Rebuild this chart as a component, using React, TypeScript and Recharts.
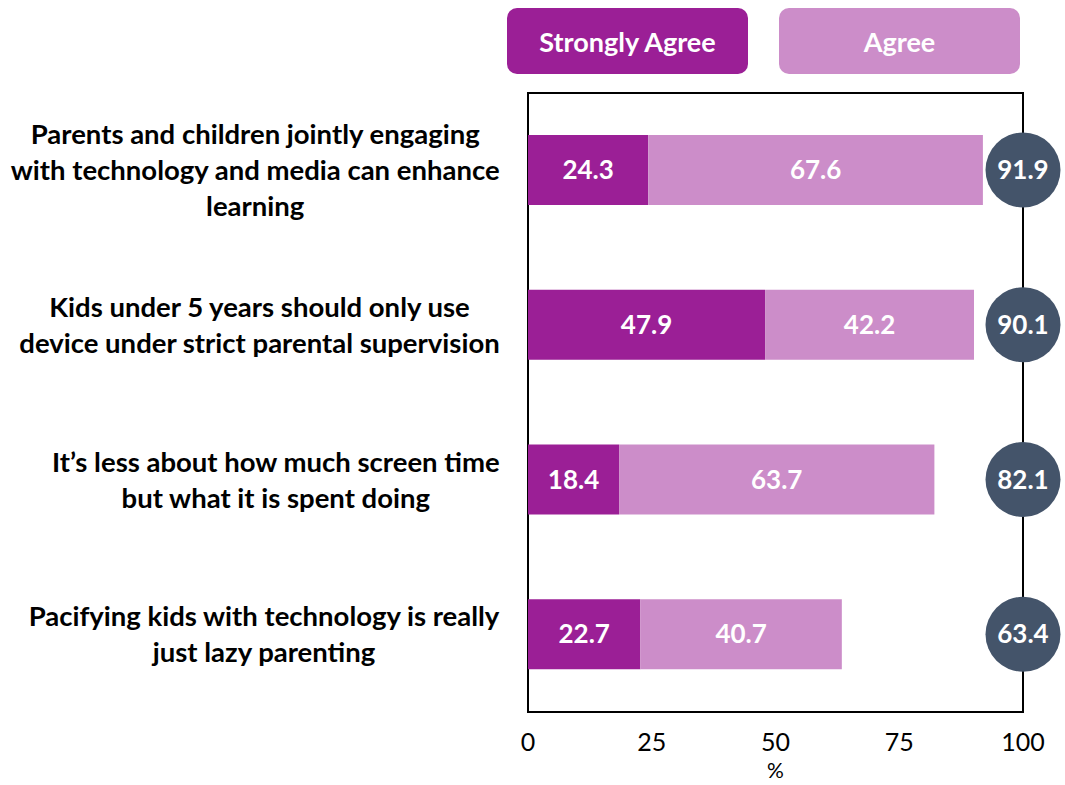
import { Bar, ComposedChart, LabelList, ReferenceArea, XAxis, YAxis } from "recharts";

const categories = [
  "Parents and children jointly engaging with technology and media can enhance learning",
  "Kids under 5 years should only use device under strict parental supervision",
  "It’s less about how much screen time but what it is spent doing",
  "Pacifying kids with technology is really just lazy parenting",
];

// how each category label wraps in the original
const categoryLines = [
  ["Parents and children jointly engaging", "with technology and media can enhance", "learning"],
  ["Kids under 5 years should only use", "device under strict parental supervision"],
  ["It’s less about how much screen time", "but what it is spent doing"],
  ["Pacifying kids with technology is really", "just lazy parenting"],
];

const stronglyAgree = [24.3, 47.9, 18.4, 22.7];
const agree = [67.6, 42.2, 63.7, 40.7];
const totals = [91.9, 90.1, 82.1, 63.4];
const xTicks = [0, 25, 50, 75, 100];

const seriesNames = ["Strongly Agree", "Agree"];
const DARK = "#9b1f96";
const LIGHT = "#cc8dc9";
const BUBBLE = "#44546a";
const FONT = "Lato, 'Open Sans', sans-serif";
const CAT_SIZE = 27.5;

const rows = categories.map((name, i) => ({
  name,
  strong: stronglyAgree[i],
  agree: agree[i],
  total: totals[i],
  rest: 100 - totals[i],
}));

let measureCtx: CanvasRenderingContext2D | null = null;
function textWidth(s: string, font: string): number {
  if (!measureCtx) measureCtx = document.createElement("canvas").getContext("2d");
  if (!measureCtx) return s.length * 12;
  measureCtx.font = font;
  return measureCtx.measureText(s).width;
}

// block is centred, its widest line ends at the tick position
function CategoryTick(props: any) {
  const { x, y, payload } = props;
  const idx = categories.indexOf(payload.value);
  const lines = categoryLines[idx] || [payload.value];
  const lineHeight = 36;
  const font = `700 ${CAT_SIZE}px Lato`;
  const maxW = Math.max(...lines.map((l) => textWidth(l, font)));
  const cx = x - maxW / 2;
  const startY = y - ((lines.length - 1) * lineHeight) / 2;
  return (
    <text
      x={cx}
      y={startY}
      textAnchor="middle"
      fontFamily={FONT}
      fontWeight={700}
      fontSize={CAT_SIZE}
      fill="#000"
    >
      {lines.map((line, i) => (
        <tspan key={i} x={cx} y={startY + i * lineHeight} dy="0.35em">
          {line}
        </tspan>
      ))}
    </text>
  );
}

function SegmentLabel(props: any) {
  const { x, y, width, height, value } = props;
  return (
    <text
      x={x + width / 2}
      y={y + height / 2}
      dy="0.35em"
      textAnchor="middle"
      fontFamily={FONT}
      fontWeight={700}
      fontSize={26}
      fill="#fff"
    >
      {Number(value).toFixed(1)}
    </text>
  );
}

function TotalBubble(props: any) {
  const { x, y, width, height, value } = props;
  const cx = x + width;
  const cy = y + height / 2;
  return (
    <g>
      <circle cx={cx} cy={cy} r={37.5} fill={BUBBLE} />
      <text
        x={cx}
        y={cy}
        dy="0.35em"
        textAnchor="middle"
        fontFamily={FONT}
        fontWeight={700}
        fontSize={26}
        fill="#fff"
      >
        {Number(value).toFixed(1)}
      </text>
    </g>
  );
}

function PercentLabel(props: any) {
  const vb = props.viewBox || {};
  return (
    <text
      x={vb.x + vb.width / 2}
      y={vb.y + vb.height - 14}
      dy="0.35em"
      textAnchor="middle"
      fontFamily={FONT}
      fontSize={21}
      fill="#000"
    >
      %
    </text>
  );
}

function LegendBoxes() {
  const colors = [DARK, LIGHT];
  const lefts = [507, 779];
  return (
    <>
      {seriesNames.map((name, i) => (
        <div
          key={name}
          style={{
            position: "absolute",
            left: lefts[i],
            top: 8,
            width: 241,
            height: 66,
            borderRadius: 10,
            background: colors[i],
            color: "#fff",
            fontFamily: FONT,
            fontWeight: 700,
            fontSize: 27,
            display: "flex",
            alignItems: "center",
            justifyContent: "center",
          }}
        >
          {name}
        </div>
      ))}
    </>
  );
}

export default function App() {
  return (
    <div style={{ position: "absolute", left: 0, top: 0, width: 1065, height: 785, background: "#fff" }}>
      <LegendBoxes />
      <ComposedChart
        width={1065}
        height={785}
        data={rows}
        layout="vertical"
        margin={{ top: 93, right: 42, bottom: 0, left: 0 }}
        barCategoryGap={42}
      >
        <XAxis
          type="number"
          domain={[0, 100]}
          ticks={xTicks}
          axisLine={false}
          tickLine={false}
          tickSize={0}
          tickMargin={21}
          height={73}
          tick={{ fontFamily: FONT, fontSize: 25, fill: "#000" }}
          label={<PercentLabel />}
        />
        <YAxis
          type="category"
          dataKey="name"
          width={528}
          axisLine={false}
          tickLine={false}
          tickSize={0}
          tickMargin={28}
          tick={<CategoryTick />}
        />
        <ReferenceArea x1={0} x2={100} fill="none" stroke="#000" strokeWidth={2} fillOpacity={0} />
        <Bar dataKey="strong" stackId="a" fill={DARK} barSize={70} isAnimationActive={false}>
          <LabelList dataKey="strong" content={<SegmentLabel />} />
        </Bar>
        <Bar dataKey="agree" stackId="a" fill={LIGHT} barSize={70} isAnimationActive={false}>
          <LabelList dataKey="agree" content={<SegmentLabel />} />
        </Bar>
        <Bar dataKey="rest" stackId="a" fill="transparent" barSize={70} isAnimationActive={false}>
          <LabelList dataKey="total" content={<TotalBubble />} />
        </Bar>
      </ComposedChart>
    </div>
  );
}
